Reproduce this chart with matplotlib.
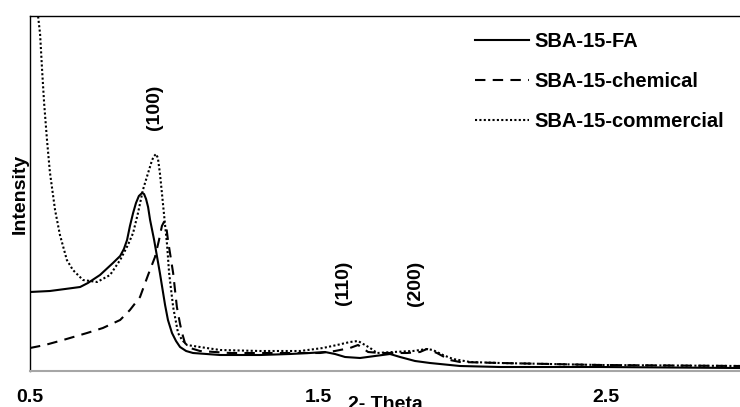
import matplotlib
matplotlib.use("Agg")
import matplotlib.pyplot as plt

plt.rcParams["font.family"] = ["Liberation Sans", "DejaVu Sans"]
plt.rcParams["font.weight"] = "bold"

# Low-angle XRD patterns of the three SBA-15 samples (2-theta in degrees, intensity in a.u.)
tt_fa = [0.500, 0.569, 0.622, 0.674, 0.701, 0.743, 0.788, 0.813, 0.826, 0.837,
         0.847, 0.858, 0.868, 0.878, 0.889, 0.896, 0.903, 0.910, 0.917, 0.931,
         0.951, 0.969, 0.979, 0.993, 1.007, 1.021, 1.042, 1.066, 1.160, 1.299,
         1.403, 1.472, 1.524, 1.559, 1.594, 1.646, 1.698, 1.750, 1.785, 1.837,
         1.889, 1.993, 2.132, 2.479, 2.965]
int_fa = [79, 80, 82, 84, 88, 96, 108, 115, 122, 131,
          145, 158, 168, 175, 178, 177, 172, 164, 151, 131,
          98, 66, 51, 38, 30, 24, 20, 18, 16, 16,
          17, 18, 19, 17, 14, 13, 15, 17, 14, 10,
          8, 5, 4, 4, 3]

tt_chem = [0.500, 0.552, 0.615, 0.698, 0.753, 0.813, 0.847, 0.882, 0.910, 0.934,
           0.948, 0.958, 0.965, 0.972, 0.979, 0.997, 1.010, 1.021, 1.028, 1.038,
           1.056, 1.090, 1.194, 1.403, 1.507, 1.559, 1.611, 1.639, 1.674, 1.715,
           1.809, 1.854, 1.878, 1.913, 1.958, 1.993, 2.132, 2.479, 2.965]
int_chem = [23, 26, 31, 38, 43, 51, 61, 74, 96, 114,
            131, 145, 149, 147, 131, 98, 64, 47, 38, 28,
            23, 20, 18, 18, 18, 20, 23, 26, 19, 18,
            18, 19, 22, 18, 11, 9, 8, 6, 5]

tt_comm = [0.524, 0.528, 0.535, 0.542, 0.549, 0.559, 0.569, 0.587, 0.604, 0.628,
           0.649, 0.684, 0.733, 0.778, 0.813, 0.840, 0.858, 0.875, 0.892, 0.910,
           0.924, 0.931, 0.938, 0.944, 0.951, 0.958, 0.969, 0.976, 0.983, 0.997,
           1.014, 1.028, 1.045, 1.090, 1.160, 1.299, 1.438, 1.517, 1.566, 1.611,
           1.639, 1.663, 1.681, 1.705, 1.760, 1.830, 1.878, 1.899, 1.934, 1.969,
           2.028, 2.132, 2.479, 2.965]
int_comm = [391, 355, 337, 301, 268, 231, 199, 161, 136, 111,
            101, 91, 89, 96, 111, 126, 138, 158, 181, 198,
            211, 215, 217, 213, 198, 178, 146, 126, 98, 64,
            38, 31, 26, 24, 21, 20, 20, 23, 26, 29,
            30, 26, 23, 18, 19, 20, 22, 21, 16, 12,
            9, 8, 6, 5]

series_names = ["SBA-15-FA", "SBA-15-chemical", "SBA-15-commercial"]

peak_labels = ["(100)", "(110)", "(200)"]
peak_pos = [0.934, 1.587, 1.837]
peak_height = [264, 88, 88]

xtick_vals = [0.5, 1.5, 2.5]
xtick_text = ["0.5", "1.5", "2.5"]

fig = plt.figure(figsize=(7.4, 4.07), dpi=100)
ax = fig.add_axes([30 / 740, 36 / 407, 710 / 740, 355 / 407])

ax.plot(tt_fa, int_fa, color="black", lw=1.5, ls="-", label=series_names[0])
ax.plot(tt_chem, int_chem, color="black", lw=1.5, ls=(0, (5, 3.5)), label=series_names[1])
ax.plot(tt_comm, int_comm, color="black", lw=1.5, ls=(0, (1, 1.1)), label=series_names[2])

for lab, xp, yp in zip(peak_labels, peak_pos, peak_height):
    ax.text(xp, yp, lab, rotation=90, ha="center", va="center",
            fontsize=14, fontweight="bold")

ax.set_xlim(0.5, 0.5 + 710 / 288)
ax.set_ylim(0, 355)
ax.set_xticks(xtick_vals)
ax.set_xticklabels(xtick_text)
ax.set_yticks([])
ax.tick_params(axis="x", length=0, pad=13, labelsize=14)
for t in ax.get_xticklabels():
    t.set_fontweight("bold")

ax.set_xlabel("2- Theta", fontsize=14, fontweight="bold")
ax.xaxis.set_label_coords(0.5, -0.07)
ax.set_ylabel("Intensity", fontsize=14, fontweight="bold")
ax.yaxis.label.set_va("center")
ax.yaxis.set_label_coords(-0.014, 0.5)

ax.spines["right"].set_visible(False)
ax.spines["top"].set_color("black")
ax.spines["top"].set_linewidth(1.0)
ax.spines["left"].set_color("black")
ax.spines["left"].set_linewidth(1.0)
ax.spines["bottom"].set_color("#a6a6a6")
ax.spines["bottom"].set_linewidth(1.5)

leg = ax.legend(loc="upper left", bbox_to_anchor=(0.627, 0.955), frameon=False,
                fontsize=14.5, handlelength=2.65, handletextpad=0.3,
                labelspacing=1.05, borderpad=0, borderaxespad=0)
for t in leg.get_texts():
    t.set_fontweight("bold")

fig.savefig("out.png", dpi=100)
